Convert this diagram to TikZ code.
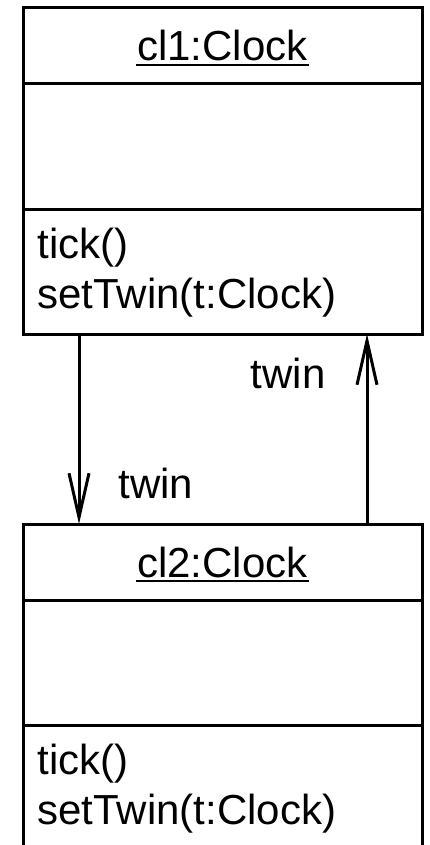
\documentclass[tikz,border=0pt]{standalone}
\usepackage{fontspec}
\setmainfont{Liberation Sans}
\usetikzlibrary{arrows.meta,positioning,calc}
\tikzset{>={Straight Barb[length=44pt,width=20pt]},
 every node/.style={font=\fontsize{42}{50}\selectfont,inner sep=0pt},
 part/.style={draw,line width=3pt,minimum width=399pt,inner sep=0pt,outer sep=0pt},
 link/.style={draw,line width=3pt,->}}
\begin{document}
\begin{tikzpicture}[x=1pt,y=-1pt,line width=3pt]
\clip (0,0) rectangle (429,845);
\fill[white] (0,0) rectangle (429,845);
% the two objects
\foreach \k/\y in {1/8,2/524}{
 \node[part,minimum height=76pt,anchor=north] (head\k) at (222.5,\y) {};
 \node[part,minimum height=125pt,below=0pt of head\k] (attr\k) {};
 \node[part,minimum height=125pt,below=0pt of attr\k] (ops\k) {};
 \node[anchor=base] (name\k) at ($(head\k.north)+(0,53)$) {cl\k:Clock};
 \draw[line width=2.5pt] ([yshift=-4pt]name\k.base west)--([yshift=-4pt]name\k.base east);
 \node[anchor=base west] (tick\k) at ($(ops\k.north west)+(13,49)$) {tick()};
 \node[anchor=base west] (set\k) at ($(ops\k.north west)+(13,99)$) {setTwin(t:Clock)};
}
% links
\coordinate (lx) at (79,0);
\coordinate (rx) at (367,0);
\draw[link] (ops1.south -| lx)--(head2.north -| lx)
 node[pos=.864,anchor=base west,xshift=38pt] (twin1) {twin};
\draw[link] (head2.north -| rx)--(ops1.south -| rx)
 node[pos=.712,anchor=base east,xshift=-40pt] (twin2) {twin};
\end{tikzpicture}
\end{document}
